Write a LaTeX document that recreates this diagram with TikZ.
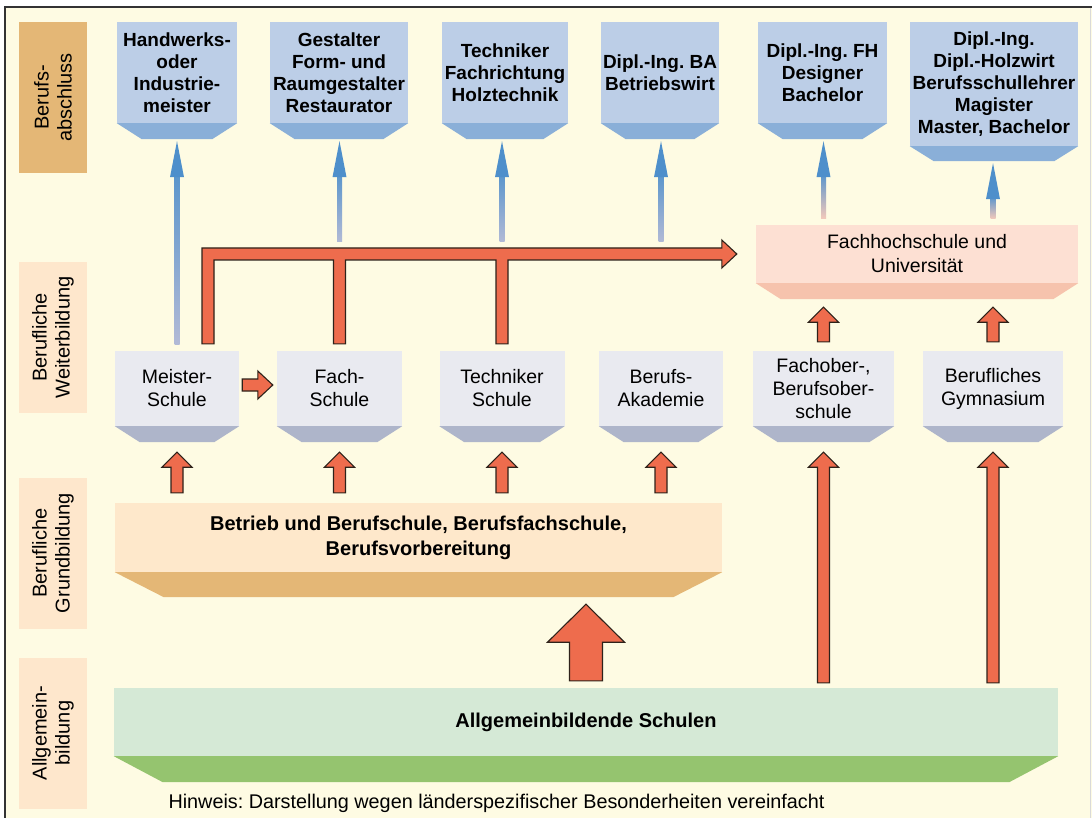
\documentclass[tikz,border=0pt]{standalone}
\usepackage{fontspec}
\setmainfont{Liberation Sans}
\usetikzlibrary{calc}
\frenchspacing

\definecolor{bg}{HTML}{FEFBE3}
\definecolor{framecol}{HTML}{333333}
\definecolor{tan}{HTML}{E4B776}
\definecolor{peach}{HTML}{FEE7CC}
\definecolor{topblue}{HTML}{BCCEE7}
\definecolor{topbev}{HTML}{8AAFD8}
\definecolor{midgray}{HTML}{E9EAF0}
\definecolor{midbev}{HTML}{AEB5CA}
\definecolor{unifill}{HTML}{FDE0D3}
\definecolor{unibev}{HTML}{F6C3AD}
\definecolor{grundfill}{HTML}{FEE8CB}
\definecolor{allgfill}{HTML}{D5E9D6}
\definecolor{allgbev}{HTML}{95C46F}
\definecolor{fatorange}{HTML}{EE6C4D}
\definecolor{fatline}{HTML}{2E221A}
\definecolor{bluetop}{HTML}{5C96CC}
\definecolor{bluelow}{HTML}{B2BAD6}
\definecolor{bluepink}{HTML}{F4C9BA}
\definecolor{bluehead}{HTML}{4E8FCB}

\tikzset{
  lbl/.style={rotate=90, minimum width=151, minimum height=68, inner sep=0pt,
    align=center, font=\fontsize{20}{23}\selectfont},
  topbox/.style={fill=topblue, minimum height=101, inner sep=0pt, align=center,
    font=\bfseries\fontsize{19}{22}\selectfont},
  midbox/.style={fill=midgray, minimum height=75, inner sep=0pt, align=center,
    font=\fontsize{19.5}{23}\selectfont},
  widebox/.style={minimum height=69, inner sep=0pt, align=center,
    font=\bfseries\fontsize{20}{25}\selectfont},
  fat/.style={fill=fatorange, draw=fatline, line width=1.1pt, line join=miter}
}

% bevelled lower edge of a box, plus a coordinate at its bottom
\newcommand\bevel[4]{%
  \fill[#2] (#1.south west) -- (#1.south east) -- ($(#1.south east)+(-#3,#4)$)
    -- ($(#1.south west)+(#3,#4)$) -- cycle;
  \coordinate (#1-b) at ($(#1.south)+(0,#4)$);}

% block arrows: shaft half, head half, head length, from, to
\newcommand\fatup[5]{%
  \filldraw[fat] let \p1=#4, \p2=#5 in (\x1-#1,\y1) -- (\x1-#1,\y2-#3)
    -- (\x1-#2,\y2-#3) -- (\x1,\y2) -- (\x1+#2,\y2-#3) -- (\x1+#1,\y2-#3)
    -- (\x1+#1,\y1) -- cycle;}
\newcommand\fatright[5]{%
  \filldraw[fat] let \p1=#4, \p2=#5 in (\x1,\y1-#1) -- (\x2-#3,\y1-#1)
    -- (\x2-#3,\y1-#2) -- (\x2,\y1) -- (\x2-#3,\y1+#2) -- (\x2-#3,\y1+#1)
    -- (\x1,\y1+#1) -- cycle;}

% thin blue arrow: from, to, bottom colour
\newcommand\bluearrow[3]{%
  \shade[bottom color=#3, top color=bluetop] let \p1=#1, \p2=#2 in
    (\x1-2.5pt,\y1) rectangle (\x1+2.5pt,\y2-34pt);
  \fill[bluehead] let \p1=#1, \p2=#2 in
    (\x1-7pt,\y2-36pt) -- (\x1,\y2) -- (\x1+7pt,\y2-36pt) -- cycle;}

\begin{document}
\begin{tikzpicture}[x=1pt, y=-1pt]
  \useasboundingbox (0,0) rectangle (1092,818);
  \fill[bg] (5,7) rectangle (1092,818);
  \draw[framecol, line width=2pt] (5,818) -- (5,7) -- (1092,7);
  \draw[black!15, line width=1pt] (1090,8) -- (1090,818);

  % left column
  \node[lbl, fill=tan] (l1) at (53,97.5) {Berufs-\\abschluss};
  \node[lbl, fill=peach] (l2) at (53,337.5) {Berufliche\\Weiterbildung};
  \node[lbl, fill=peach] (l3) at (53,553) {Berufliche\\Grundbildung};
  \node[lbl, fill=peach] (l4) at (53,733) {Allgemein-\\bildung};

  % degrees
  \node[topbox, minimum width=120] (hw) at (177,72.5) {Handwerks-\\oder\\Industrie-\\meister};
  \node[topbox, minimum width=138] (gest) at (339,72.5) {Gestalter\\Form- und\\Raumgestalter\\Restaurator};
  \node[topbox, minimum width=126] (tech) at (505,72.5) {Techniker\\Fachrichtung\\Holztechnik};
  \node[topbox, minimum width=118] (ba) at (660,72.5) {Dipl.-Ing. BA\\Betriebswirt};
  \node[topbox, minimum width=129] (fh) at (822.5,72.5) {Dipl.-Ing. FH\\Designer\\Bachelor};
  \node[topbox, minimum width=168, minimum height=124] (uni) at (994,84) {Dipl.-Ing.\\Dipl.-Holzwirt\\Berufsschullehrer\\Magister\\Master, Bachelor};
  \bevel{hw}{topbev}{25}{16}
  \bevel{gest}{topbev}{25}{16}
  \bevel{tech}{topbev}{25}{16}
  \bevel{ba}{topbev}{25}{16}
  \bevel{fh}{topbev}{25}{16}
  \bevel{uni}{topbev}{24}{15}

  % further training
  \node[midbox, minimum width=124] (meister) at (177,388.5) {Meister-\\Schule};
  \node[midbox, minimum width=125] (fach) at (339.5,388.5) {Fach-\\Schule};
  \node[midbox, minimum width=125] (techn) at (502,388.5) {Techniker\\Schule};
  \node[midbox, minimum width=124] (akad) at (661,388.5) {Berufs-\\Akademie};
  \node[midbox, minimum width=141] (fos) at (823.5,388.5) {Fachober-,\\Berufsober-\\schule};
  \node[midbox, minimum width=140] (gym) at (993,388.5) {Berufliches\\Gymnasium};
  \foreach \s in {meister,fach,techn,akad,fos,gym}{
    \bevel{\s}{midbev}{25}{16}
  }

  \node[fill=unifill, minimum width=322, minimum height=58, inner sep=0pt, align=center,
    font=\fontsize{19.5}{24}\selectfont] (fhuni) at (917,254) {Fachhochschule und\\Universität};
  \bevel{fhuni}{unibev}{25}{16}

  % basic training and school
  \node[widebox, fill=grundfill, minimum width=607] (grund) at (418.5,537.5)
    {Betrieb und Berufschule, Berufsfachschule,\\Berufsvorbereitung};
  \bevel{grund}{tan}{49}{25}
  \node[widebox, fill=allgfill, minimum width=944, minimum height=68] (allg) at (586,722)
    {Allgemeinbildende Schulen};
  \bevel{allg}{allgbev}{49}{26}

  \node[font=\fontsize{19.8}{22}\selectfont] (hinweis) at (496.5,803)
    {Hinweis: Darstellung wegen länderspezifischer Besonderheiten vereinfacht};

  % blue arrows to the degrees
  \bluearrow{($(meister.north)+(0,-6)$)}{($(hw-b)+(0,2)$)}{bluelow}
  \bluearrow{($(fach |- fhuni.west)+(0,-12)$)}{($(gest-b)+(0,2)$)}{bluelow}
  \bluearrow{($(techn |- fhuni.west)+(0,-12)$)}{($(tech-b)+(0,2)$)}{bluelow}
  \bluearrow{($(akad |- fhuni.west)+(0,-12)$)}{($(ba-b)+(0,2)$)}{bluelow}
  \bluearrow{($(fos |- fhuni.north)+(0,-6)$)}{($(fh-b)+(0,2)$)}{bluepink}
  \bluearrow{($(gym |- fhuni.north)+(0,-6)$)}{($(uni-b)+(0,2)$)}{bluepink}

  % orange connection to university
  \filldraw[fat] let \p1=($(meister.north)+(31,-7)$), \p2=(fach.north),
      \p3=(techn.north), \p4=(fhuni.west) in
    (\x1-6pt,\y1) -- (\x1-6pt,\y4+6pt) -- (\x4-34pt,\y4+6pt) -- (\x4-34pt,\y4+14pt)
    -- (\x4-19pt,\y4) -- (\x4-34pt,\y4-14pt) -- (\x4-34pt,\y4-6pt) -- (\x3+6pt,\y4-6pt)
    -- (\x3+6pt,\y1) -- (\x3-6pt,\y1) -- (\x3-6pt,\y4-6pt) -- (\x2+6pt,\y4-6pt)
    -- (\x2+6pt,\y1) -- (\x2-6pt,\y1) -- (\x2-6pt,\y4-6pt) -- (\x1+6pt,\y4-6pt)
    -- (\x1+6pt,\y1) -- cycle;

  \fatright{6pt}{14pt}{15pt}{($(meister.east)+(3,-3.5)$)}{($(fach.west)+(-4,-3.5)$)}

  \foreach \s in {meister,fach,techn,akad}{
    \fatup{6pt}{15pt}{15pt}{($(grund.north -| \s)+(0,-10)$)}{($(\s-b)+(0,10)$)}
  }
  \foreach \s in {fos,gym}{
    \fatup{6pt}{15pt}{15pt}{($(\s.north)+(0,-9)$)}{($(fhuni-b)+(0,8)$)}
    \fatup{6pt}{15pt}{15pt}{($(allg.north -| \s)+(0,-5)$)}{($(\s-b)+(0,10)$)}
  }
  \fatup{16.5pt}{38.5pt}{38pt}{($(allg.north)+(0,-7)$)}{($(grund-b -| allg.north)+(0,7)$)}
\end{tikzpicture}
\end{document}
